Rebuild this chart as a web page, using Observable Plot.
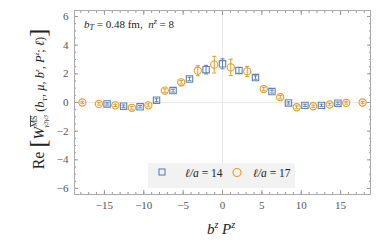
<!DOCTYPE html>
<html><head><meta charset="utf-8">
<script src="https://cdn.jsdelivr.net/npm/d3@7"></script>
<script src="https://cdn.jsdelivr.net/npm/@observablehq/plot@0.6"></script>
<style>body{margin:0;background:#fff;} svg{display:block;}</style>
</head><body><div id="chart"></div>
<script>
// ℓ/a = 14 (blue squares)
const blueX = [-14.66, -12.57, -10.47, -8.38, -6.28, -4.19, -2.09, 0, 2.09, 4.19, 6.28, 8.38, 10.47, 12.57, 14.66];
const blueY = [-0.1, -0.26, -0.3, 0.16, 0.83, 1.64, 2.29, 2.7, 2.24, 1.74, 0.76, -0.03, -0.2, -0.2, -0.05];
const blueErr = [0.08, 0.08, 0.08, 0.1, 0.1, 0.12, 0.3, 0.35, 0.2, 0.12, 0.1, 0.08, 0.08, 0.08, 0.08];
// ℓ/a = 17 (orange circles)
const orangeX = [-17.8, -15.71, -13.61, -11.52, -9.42, -7.33, -5.24, -3.14, -1.05, 1.05, 3.14, 5.24, 7.33, 9.42, 11.52, 13.61, 15.71, 17.8];
const orangeY = [0.0, -0.1, -0.2, -0.37, -0.2, 0.83, 1.41, 2.22, 2.64, 2.45, 2.17, 0.94, 0.37, -0.33, -0.26, -0.14, -0.03, 0.0];
const orangeErr = [0.08, 0.08, 0.08, 0.1, 0.1, 0.12, 0.12, 0.35, 0.58, 0.57, 0.35, 0.12, 0.12, 0.1, 0.08, 0.08, 0.08, 0.08];
const xTicks = [-15, -10, -5, 0, 5, 10, 15];
const yTicks = [-6, -4, -2, 0, 2, 4, 6];
const xMinor = d3.range(-18, 19, 1);
const yMinor = d3.range(-6, 6.01, 0.5);

const blue = "#5E81B5", orange = "#E19C24";
const blueData = blueX.map((x, i) => ({x, y: blueY[i], e: blueErr[i]}));
const orangeData = orangeX.map((x, i) => ({x, y: orangeY[i], e: orangeErr[i]}));
const cap = {draw(ctx, size){ const w = Math.sqrt(size/Math.PI); ctx.moveTo(-w,0); ctx.lineTo(w,0); }};
const font = "'Liberation Serif', 'DejaVu Serif', serif";

function series(data, color, symbol){
  return [
    Plot.ruleX(data, {x: "x", y1: d => d.y - d.e, y2: d => d.y + d.e, stroke: color, strokeWidth: 1}),
    Plot.dot(data, {x: "x", y: d => d.y - d.e, symbol: cap, r: 2, stroke: color, strokeWidth: 1}),
    Plot.dot(data, {x: "x", y: d => d.y + d.e, symbol: cap, r: 2, stroke: color, strokeWidth: 1}),
    Plot.dot(data, {x: "x", y: "y", symbol, r: 3.6, stroke: color, strokeWidth: 1.1, fill: "none"})
  ];
}
const tk = (axis, anchor, ticks, size) => axis({anchor, ticks, tickSize: size, fill: "none", stroke: "#999", label: null});

const chart = Plot.plot({
  width: 382, height: 243,
  marginLeft: 74, marginRight: 12, marginTop: 10, marginBottom: 49,
  style: {fontFamily: font, fontSize: "11px", background: "#fff", color: "#555"},
  x: {domain: [-18.8, 18.8]},
  y: {domain: [-6.42, 6.42]},
  marks: [
    Plot.ruleX([0], {stroke: "#e8e8e8"}),
    Plot.ruleY([0], {stroke: "#e8e8e8"}),
    tk(Plot.axisX, "bottom", xMinor, -2),
    tk(Plot.axisX, "top", xMinor, -2),
    tk(Plot.axisX, "bottom", xTicks, -4),
    tk(Plot.axisX, "top", xTicks, -4),
    tk(Plot.axisY, "left", yMinor, -2),
    tk(Plot.axisY, "right", yMinor, -2),
    tk(Plot.axisY, "left", yTicks, -4),
    tk(Plot.axisY, "right", yTicks, -4),
    Plot.axisX({anchor: "bottom", ticks: xTicks, tickSize: 0, tickPadding: 7, label: null, fontSize: 11}),
    Plot.axisY({anchor: "left", ticks: yTicks, tickSize: 0, tickPadding: 6, label: null, fontSize: 11}),
    Plot.frame({stroke: "#aaa"}),
    ...series(blueData, blue, "square"),
    ...series(orangeData, orange, "circle")
  ]
});

const svg = d3.select(chart);
// annotation
const ann = svg.append("text").attr("x", 84).attr("y", 28).attr("text-anchor", "start").attr("font-family", font).attr("font-size", 11).attr("fill", "#222");
ann.append("tspan").attr("font-style", "italic").text("b");
ann.append("tspan").attr("font-style", "italic").attr("font-size", 8).attr("dy", 2).text("T");
ann.append("tspan").attr("dy", -2).text(" = 0.48 fm,  ");
ann.append("tspan").attr("font-style", "italic").text("n");
ann.append("tspan").attr("font-style", "italic").attr("font-size", 8).attr("dy", -4).text("z");
ann.append("tspan").attr("dy", 4).text(" = 8");

// legend
const lg = svg.append("g");
lg.append("rect").attr("x", 148).attr("y", 163).attr("width", 147).attr("height", 25).attr("fill", "#f2f2f2");
lg.append("rect").attr("x", 159).attr("y", 169).attr("width", 6).attr("height", 6).attr("fill", "none").attr("stroke", blue).attr("stroke-width", 1.1);
lg.append("circle").attr("cx", 237).attr("cy", 172.5).attr("r", 4).attr("fill", "none").attr("stroke", orange).attr("stroke-width", 1.1);
function legText(x, v){
  const t = lg.append("text").attr("x", x).attr("y", 177).attr("text-anchor", "start").attr("font-family", font).attr("font-size", 11.5).attr("fill", "#222");
  t.append("tspan").attr("font-style", "italic").text("ℓ/a");
  t.append("tspan").text(" = " + v);
}
legText(185, "14");
legText(253, "17");

// x label
const xl = svg.append("text").attr("x", 221).attr("y", 234).attr("text-anchor", "middle").attr("font-family", font).attr("font-size", 15).attr("font-style", "italic").attr("fill", "#222");
xl.append("tspan").text("b");
xl.append("tspan").attr("font-size", 10).attr("dy", -6).text("z");
xl.append("tspan").attr("dy", 6).text(" P");
xl.append("tspan").attr("font-size", 10).attr("dy", -6).text("z");

// y label
const yl = svg.append("text").attr("transform", "translate(44,99) rotate(-90)").attr("text-anchor", "middle").attr("font-family", font).attr("font-size", 12.5).attr("fill", "#222");
yl.append("tspan").attr("font-size", 16).text("Re ");
yl.append("tspan").attr("font-size", 24).attr("dy", 2).text("[");
yl.append("tspan").attr("font-style", "italic").attr("font-size", 15).attr("dy", -2).text("W");
yl.append("tspan").attr("font-size", 8).attr("dy", -7).attr("text-decoration", "overline").text("MS");
yl.append("tspan").attr("font-size", 7).attr("font-style", "italic").attr("dx", -12).attr("dy", 11).text("γ3γ3");
yl.append("tspan").attr("dy", -4).text(" (");
yl.append("tspan").attr("font-style", "italic").text("b");
yl.append("tspan").attr("font-size", 7).attr("dy", 3).text("T");
yl.append("tspan").attr("dy", -3).text(", ");
yl.append("tspan").attr("font-style", "italic").text("μ");
yl.append("tspan").text(", ");
yl.append("tspan").attr("font-style", "italic").text("b");
yl.append("tspan").attr("font-style", "italic").attr("font-size", 7).attr("dy", -5).text("z");
yl.append("tspan").attr("dy", 5).text(", ");
yl.append("tspan").attr("font-style", "italic").text("P");
yl.append("tspan").attr("font-style", "italic").attr("font-size", 7).attr("dy", -5).text("z");
yl.append("tspan").attr("dy", 5).text("; ");
yl.append("tspan").attr("font-style", "italic").text("ℓ");
yl.append("tspan").text(")");
yl.append("tspan").attr("font-size", 24).attr("dy", 2).text("]");

document.getElementById("chart").appendChild(chart);
</script></body></html>
